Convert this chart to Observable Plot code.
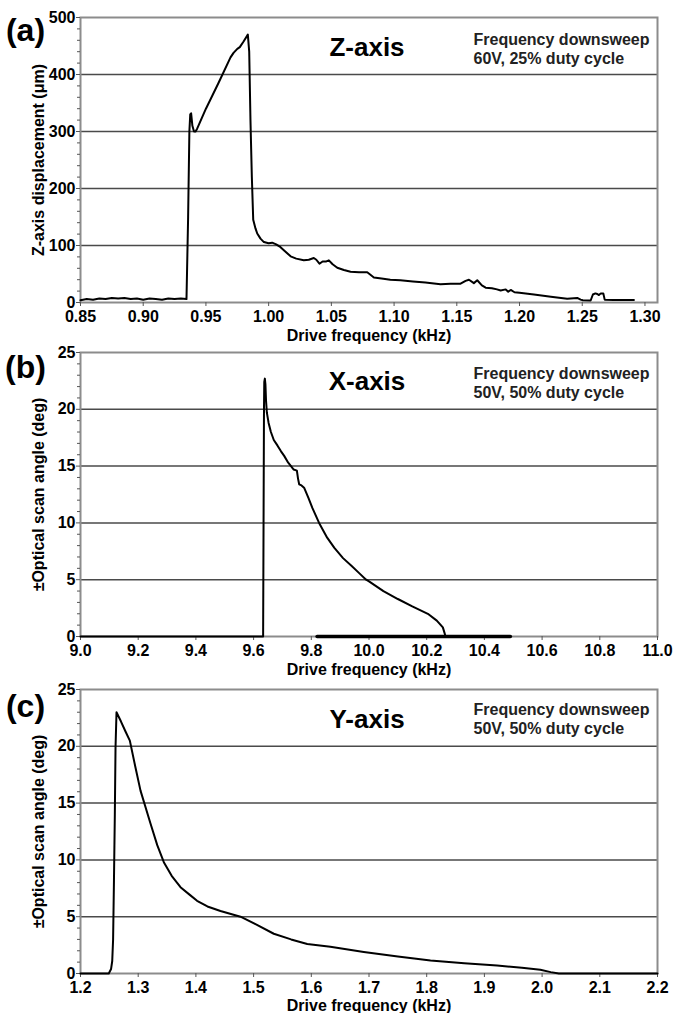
<!DOCTYPE html>
<html><head><meta charset="utf-8">
<script src="https://cdn.jsdelivr.net/npm/d3@7"></script>
<script src="https://cdn.jsdelivr.net/npm/@observablehq/plot@0.6"></script>
<style>
html,body{margin:0;padding:0;background:#fff;}
#chart svg{display:block;}
</style></head><body><div id="chart"></div>
<script>
// ---------- Panel (a): Z-axis ----------
const zFreq = [0.850,0.855,0.860,0.865,0.870,0.875,0.880,0.885,0.890,0.895,0.900,0.905,0.910,0.915,0.920,0.925,0.930,0.9345,
  0.9358,0.9368,0.9375,0.9382,0.9392,0.9405,0.9417,0.943,0.950,0.960,0.9696,0.972,0.975,0.977,0.980,0.9834,
  0.9845,0.9855,0.9866,0.9877,0.9895,0.9909,0.9935,0.9962,1.000,1.0028,1.006,1.0095,1.013,1.0175,1.022,1.028,1.032,1.036,1.038,1.0405,1.043,1.046,1.048,1.051,1.0547,1.060,1.0653,1.072,1.0786,1.0839,1.090,1.097,1.105,1.115,1.125,1.137,1.145,1.153,1.157,1.1597,1.1636,1.1663,1.170,1.173,1.178,1.182,1.185,1.189,1.191,1.193,1.196,1.200,1.2115,1.225,1.238,1.246,1.2487,1.2505,1.2567,1.2585,1.2605,1.262,1.2633,1.2648,1.2668,1.2679,1.275,1.2912];
const zDisp = [4,6,5,7,6,8,7,8,6,7,5,7,6,5,7,6,7,6,
  150,300,330,332,310,300,300,305,340,385,430,438,445,448,458,470,
  440,320,220,145,130,121,112,106,104,105,102,97,90,81,77,74,75,78,75,68,72,72,74,67,61,57,54,53,53,44,42,40,39,37,35,32,33,33,38,40,34,39,30,26,25,23,21,23,19,22,18,17,14,10,6.5,8,5,4,3.5,14,16,15,13,16,16,5,4.5,4.5];
const zXTicks = [0.85,0.90,0.95,1.00,1.05,1.10,1.15,1.20,1.25,1.30];
const zYTicks = [0,100,200,300,400,500];
const zYMinor = [20,40,60,80,120,140,160,180,220,240,260,280,320,340,360,380,420,440,460,480];

// ---------- Panel (b): X-axis ----------
const xFreq = [9.000,9.633,9.6345,9.636,9.637,9.639,9.641,9.643,9.646,9.652,9.660,9.670,9.683,9.695,9.706,9.720,9.739,9.750,9.754,9.758,9.766,9.775,9.790,9.804,9.827,9.855,9.880,9.910,9.940,9.965,9.990,10.000,10.050,10.100,10.150,10.204,10.235,10.256,10.262,10.265,10.490];
const xAngle = [0,0,10,20,22.4,22.7,22.2,20.8,19.7,18.8,18.0,17.3,16.8,16.3,15.9,15.3,14.7,14.6,13.9,13.4,13.3,13.1,12.2,11.3,10.0,8.7,7.8,6.9,6.2,5.6,5.0,4.85,4.0,3.3,2.65,2.0,1.4,0.8,0.3,0,0];
const xBaseFreq = [9.82,10.49];
const xBaseAngle = [0,0];
const xXTicks = [9.0,9.2,9.4,9.6,9.8,10.0,10.2,10.4,10.6,10.8,11.0];
const angleTicks = [0,5,10,15,20,25];
const angleMinor = [1,2,3,4,6,7,8,9,11,12,13,14,16,17,18,19,21,22,23,24];

// ---------- Panel (c): Y-axis ----------
const yFreq = [1.200,1.249,1.253,1.255,1.2565,1.258,1.2595,1.2607,1.2624,1.270,1.278,1.2855,1.295,1.304,1.3213,1.333,1.3444,1.358,1.3733,1.390,1.402,1.420,1.4426,1.4773,1.505,1.535,1.565,1.593,1.633,1.691,1.750,1.8066,1.865,1.922,1.965,1.997,2.015,2.029,2.200];
const yAngle = [0,0,0.4,1.1,3,8.2,14,19.9,23.0,22.2,21.3,20.5,18.2,16.1,13.2,11.3,9.8,8.6,7.6,6.9,6.4,5.9,5.5,5.0,4.3,3.5,3.0,2.6,2.35,1.9,1.5,1.14,0.9,0.7,0.5,0.33,0.12,0,0];
const yXTicks = [1.2,1.3,1.4,1.5,1.6,1.7,1.8,1.9,2.0,2.1,2.2];

const panelLabels = ["(a)","(b)","(c)"];
const titles = ["Z-axis","X-axis","Y-axis"];
const notes = ["Frequency downsweep\n60V, 25% duty cycle","Frequency downsweep\n50V, 50% duty cycle","Frequency downsweep\n50V, 50% duty cycle"];
const yLabels = ["Z-axis displacement (\u03bcm)","\u00b1Optical scan angle (deg)","\u00b1Optical scan angle (deg)"];
const xLabel = "Drive frequency (kHz)";

const FONT = "'Liberation Sans', Arial, Helvetica, sans-serif";

function panel(cfg) {
  const data = cfg.freq.map((f, i) => ({f, v: cfg.vals[i]}));
  const extra = cfg.extraF ? cfg.extraF.map((f, i) => ({f, v: cfg.extraV[i]})) : [];
  const maxY = cfg.yDomain[1];
  return Plot.plot({
    width: 674,
    height: cfg.height,
    marginLeft: 80,
    marginRight: 17,
    marginTop: cfg.mt,
    marginBottom: cfg.mb,
    style: {fontFamily: FONT, fontSize: "16px", fontWeight: "bold", background: "#fff", color: "#000", overflow: "visible"},
    x: {domain: cfg.xDomain, label: null},
    y: {domain: cfg.yDomain, label: null},
    marks: [
      Plot.ruleY(cfg.yTicks.filter(t => t > cfg.yDomain[0] && t < maxY), {stroke: "#4a4a4a", strokeWidth: 1.5}),
      Plot.frame({stroke: "#8c8c8c", strokeWidth: 2}),
      Plot.axisY(cfg.yMinor, {tickSize: 3, tickFormat: () => "", stroke: "#555"}),
      Plot.axisY(cfg.yTicks, {tickSize: 4, tickPadding: 1, tickFormat: d => String(d), stroke: "#555"}),
      Plot.axisX(cfg.xTicks, {tickSize: 4, tickPadding: 4, tickFormat: cfg.xFmt, stroke: "#555"}),
      Plot.line(extra, {x: "f", y: "v", stroke: "#000", strokeWidth: 3.5}),
      Plot.line(data, {x: "f", y: "v", stroke: "#000", strokeWidth: 2, strokeLinejoin: "round"}),
      Plot.text([cfg.panel], {text: d => d, frameAnchor: "top-left", dx: -55, dy: cfg.pdy, textAnchor: "middle", lineAnchor: "middle", fontSize: 32, fontWeight: "bold"}),
      Plot.text([cfg.title], {text: d => d, frameAnchor: "top", dx: -2, dy: cfg.tdy, lineAnchor: "middle", fontSize: 26, fontWeight: "bold"}),
      Plot.text([cfg.note], {text: d => d, frameAnchor: "top-left", dx: 393, dy: cfg.ndy, textAnchor: "start", lineAnchor: "middle", lineHeight: 1.2, fontSize: 16, fontWeight: "bold", fill: "#222"}),
      Plot.text([cfg.yLabel], {text: d => d, frameAnchor: "left", dx: -42, rotate: -90, textAnchor: "middle", lineAnchor: "middle", fontSize: 16, fontWeight: "bold"}),
      Plot.text([xLabel], {text: d => d, frameAnchor: "bottom", dy: cfg.ldy, textAnchor: "middle", lineAnchor: "middle", fontSize: 16, fontWeight: "bold"})
    ]
  });
}

const root = document.getElementById("chart");
root.append(panel({
  freq: zFreq, vals: zDisp, xDomain: [0.85, 1.31], yDomain: [0, 500],
  xTicks: zXTicks, yTicks: zYTicks, yMinor: zYMinor, xFmt: d3.format(".2f"),
  height: 344, mt: 17, mb: 42, panel: panelLabels[0], title: titles[0], note: notes[0], yLabel: yLabels[0],
  pdy: 13, tdy: 30, ndy: 30.5, ldy: 33
}));
root.append(panel({
  freq: xFreq, vals: xAngle, extraF: xBaseFreq, extraV: xBaseAngle, xDomain: [9, 11], yDomain: [0, 25],
  xTicks: xXTicks, yTicks: angleTicks, yMinor: angleMinor, xFmt: d3.format(".1f"),
  height: 332, mt: 8, mb: 40, panel: panelLabels[1], title: titles[1], note: notes[1], yLabel: yLabels[1],
  pdy: 15, tdy: 29, ndy: 29.5, ldy: 33
}));
root.append(panel({
  freq: yFreq, vals: yAngle, xDomain: [1.2, 2.2], yDomain: [0, 25],
  xTicks: yXTicks, yTicks: angleTicks, yMinor: angleMinor, xFmt: d3.format(".1f"),
  height: 337, mt: 13, mb: 40, panel: panelLabels[2], title: titles[2], note: notes[2], yLabel: yLabels[2],
  pdy: 17, tdy: 30, ndy: 28.5, ldy: 32
}));
</script>
</body></html>
